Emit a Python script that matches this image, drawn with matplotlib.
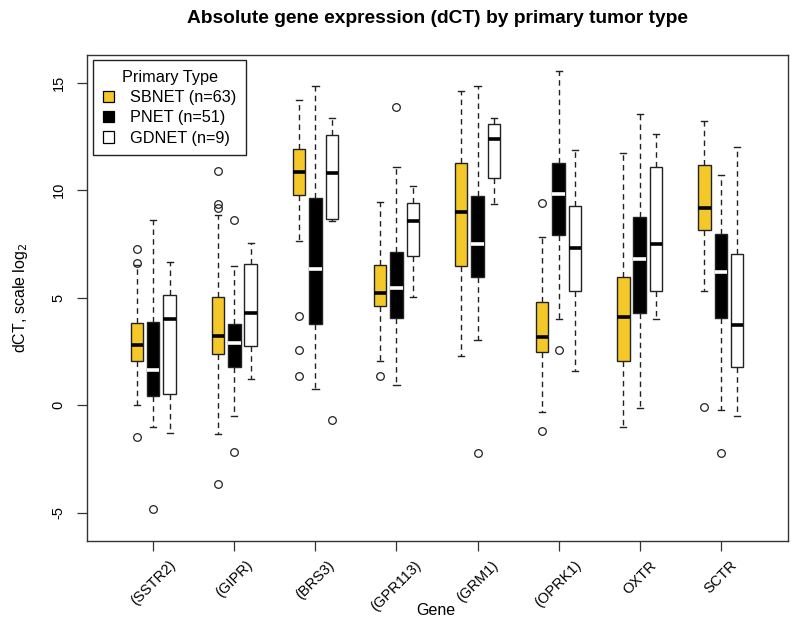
import matplotlib
matplotlib.use("Agg")
import matplotlib.pyplot as plt
import matplotlib.transforms as mtransforms
from matplotlib.patches import Patch

plt.rcParams['font.family'] = ['Liberation Sans', 'DejaVu Sans']

genes = ['(SSTR2)', '(GIPR)', '(BRS3)', '(GPR113)', '(GRM1)', '(OPRK1)', 'OXTR', 'SCTR']
groups = ['SBNET (n=63)', 'PNET (n=51)', 'GDNET (n=9)']
box_colors = ['#F5C82A', 'black', 'white']
median_colors = ['black', 'white', 'black']

# SBNET: quartiles, medians, whisker ends, outliers
sb_q1 = [2.04, 2.38, 9.78, 4.62, 6.48, 2.46, 2.04, 8.15]
sb_med = [2.79, 3.21, 10.86, 5.24, 8.99, 3.18, 4.12, 9.19]
sb_q3 = [3.84, 5.05, 11.94, 6.53, 11.27, 4.79, 5.95, 11.19]
sb_lo = [0.0, -1.33, 7.65, 2.04, 2.29, -0.33, -1.03, 5.29]
sb_hi = [6.52, 8.84, 14.18, 9.44, 14.63, 7.83, 11.72, 13.22]
sb_out = [[7.25, 6.6, -1.5], [10.9, 9.36, 9.19, -3.66], [4.16, 2.58, 1.35], [1.38],
          [], [9.39, -1.2], [], [-0.07]]

# PNET
pn_q1 = [0.43, 1.80, 3.79, 4.06, 5.95, 7.91, 4.29, 4.04]
pn_med = [1.63, 2.88, 6.32, 5.45, 7.48, 9.83, 6.82, 6.20]
pn_q3 = [3.87, 3.79, 9.64, 7.12, 9.73, 11.27, 8.74, 7.95]
pn_lo = [-1.0, -0.5, 0.75, 0.93, 3.04, 3.99, -0.15, -0.2]
pn_hi = [8.61, 6.48, 14.85, 11.1, 14.85, 15.54, 13.55, 10.69]
pn_out = [[-4.82], [8.61, -2.16], [], [13.85], [-2.24], [2.58], [], [-2.24]]

# GDNET
gd_q1 = [0.5, 2.76, 8.66, 6.92, 10.57, 5.32, 5.32, 1.80]
gd_med = [3.99, 4.29, 10.82, 8.58, 12.39, 7.31, 7.50, 3.74]
gd_q3 = [5.14, 6.57, 12.55, 9.39, 13.07, 9.28, 11.07, 7.03]
gd_lo = [-1.28, 1.21, 8.58, 5.04, 9.36, 1.60, 4.01, -0.5]
gd_hi = [6.67, 7.53, 13.38, 10.19, 13.38, 11.85, 12.60, 11.99]
gd_out = [[], [], [-0.70], [], [], [], [], []]

series = [
    (sb_q1, sb_med, sb_q3, sb_lo, sb_hi, sb_out),
    (pn_q1, pn_med, pn_q3, pn_lo, pn_hi, pn_out),
    (gd_q1, gd_med, gd_q3, gd_lo, gd_hi, gd_out),
]

fig = plt.figure(figsize=(7.99, 6.24), dpi=100)
ax = fig.add_axes([0.1093, 0.1335, 0.8766, 0.7784])

offsets = [-0.201, 0.0, 0.201]
width = 0.152

for k, (q1, med, q3, lo, hi, out) in enumerate(series):
    stats = []
    for i in range(len(genes)):
        stats.append(dict(q1=q1[i], med=med[i], q3=q3[i], whislo=lo[i],
                          whishi=hi[i], fliers=out[i]))
    pos = [i + offsets[k] for i in range(len(genes))]
    ax.bxp(stats, positions=pos, widths=width, capwidths=width * 0.5,
           patch_artist=True, manage_ticks=False,
           boxprops=dict(facecolor=box_colors[k], edgecolor='#222222', linewidth=1.0),
           medianprops=dict(color=median_colors[k], linewidth=2.6, solid_capstyle='butt'),
           whiskerprops=dict(color='#222222', linewidth=1.0, linestyle=(0, (4, 3))),
           capprops=dict(color='#222222', linewidth=1.0),
           flierprops=dict(marker='o', markersize=5.5, markerfacecolor='none',
                           markeredgecolor='#222222', markeredgewidth=0.9, linestyle='none'))

ax.set_xlim(-0.814, 7.827)
ax.set_ylim(-6.30, 16.29)

ax.set_yticks([-5, 0, 5, 10, 15])
ax.set_yticklabels(['-5', '0', '5', '10', '15'], rotation=90, va='center', fontsize=10.5)
ax.set_xticks(range(len(genes)))
ax.set_xticklabels(genes, rotation=45, ha='center', va='top', fontsize=10.5)
shift = mtransforms.ScaledTranslation(4 / 100, 0, fig.dpi_scale_trans)
for lab in ax.get_xticklabels():
    lab.set_transform(lab.get_transform() + shift)
ax.tick_params(axis='both', direction='out', length=7.5, width=0.9, color='#333333')
ax.tick_params(axis='y', pad=8)
ax.tick_params(axis='x', pad=5)
for sp in ax.spines.values():
    sp.set_color('#333333')
    sp.set_linewidth(1.0)

fig.text(0.5475, 0.970, 'Absolute gene expression (dCT) by primary tumor type',
         ha='center', va='center', fontsize=13.8, fontweight='bold')
fig.text(0.545, 0.021, 'Gene', ha='center', va='center', fontsize=11.5)
fig.text(0.026, 0.522, 'dCT, scale log$_2$', ha='center', va='center', rotation=90, fontsize=11.5)

handles = [Patch(facecolor=c, edgecolor='black', linewidth=0.9) for c in box_colors]
leg = ax.legend(handles, groups, title='Primary Type', loc='upper left',
                bbox_to_anchor=(0.008, 0.99), borderaxespad=0, fancybox=False,
                framealpha=1, edgecolor='#222222', fontsize=11.7, title_fontsize=11.7,
                handlelength=0.7, handleheight=0.7, handletextpad=1.0,
                labelspacing=0.33, borderpad=0.6)
leg.get_frame().set_linewidth(1.0)

fig.savefig('out.png', dpi=100)
